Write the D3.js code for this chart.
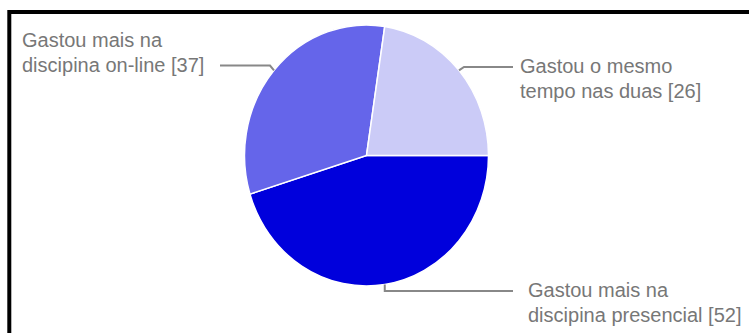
<!DOCTYPE html>
<html>
<head>
<meta charset="utf-8">
<script src="https://cdn.jsdelivr.net/npm/d3@7/dist/d3.min.js"></script>
<style>
  html, body { margin: 0; padding: 0; background: #fff; }
  svg { display: block; }
</style>
</head>
<body>
<svg id="chart" width="749" height="333"></svg>
<script>
// Slice data, drawn clockwise starting at 3 o'clock
const categories = [
  ["Gastou mais na", "discipina presencial [52]"],
  ["Gastou mais na", "discipina on-line [37]"],
  ["Gastou o mesmo", "tempo nas duas [26]"]
];
const values = [52, 37, 26];
const colors = ["#0000dc", "#6565ea", "#cbcbf7"];

// Label placement per slice: text anchor point, which text line the leader meets, leader end x
const labelLayout = [
  { x: 528, y: 297, joinLine: 0, lineEnd: 513, side: "below" },
  { x: 22,  y: 47,  joinLine: 1, lineEnd: 220, side: "left" },
  { x: 520, y: 73,  joinLine: 0, lineEnd: 513, side: "right" }
];

const W = 749, H = 333;
const cx = 366.5, cy = 155.5, r = 122, yStretch = 1.07;
const lineGap = 24.5;

const svg = d3.select("#chart");

// Outer frame (only top and left edges fall inside the view)
svg.append("rect")
  .attr("x", 9.3).attr("y", 12)
  .attr("width", 900).attr("height", 500)
  .attr("fill", "none")
  .attr("stroke", "#000")
  .attr("stroke-width", 4);

const pie = d3.pie().sort(null).value(d => d)
  .startAngle(Math.PI / 2)
  .endAngle(Math.PI / 2 + 2 * Math.PI);
const arcs = pie(values);
const arc = d3.arc().innerRadius(0).outerRadius(r);
const edge = d3.arc().innerRadius(r).outerRadius(r);

const g = svg.append("g")
  .attr("transform", `translate(${cx},${cy}) scale(1,${yStretch})`);

g.selectAll("path.slice")
  .data(arcs)
  .join("path")
  .attr("class", "slice")
  .attr("d", arc)
  .attr("fill", (d, i) => colors[i])
  .attr("stroke", "#fff")
  .attr("stroke-width", 1.5)
  .attr("vector-effect", "non-scaling-stroke");

// Leader lines from slice mid-angle on the rim out to the labels
arcs.forEach((a, i) => {
  const L = labelLayout[i];
  const c = edge.centroid(a);
  const ax = cx + c[0], ay = cy + c[1] * yStretch;
  const ly = L.y + L.joinLine * lineGap - 6;
  let pts;
  if (L.side === "below") {
    pts = [[ax, ay], [ax, ly], [L.lineEnd, ly]];
  } else if (L.side === "left") {
    pts = [[ax, ay], [ax - 4, ly], [L.lineEnd, ly]];
  } else {
    pts = [[ax, ay], [ax + 5, ly], [L.lineEnd, ly]];
  }
  svg.append("path")
    .attr("d", d3.line()(pts))
    .attr("fill", "none")
    .attr("stroke", "#888")
    .attr("stroke-width", 2);

  const t = svg.append("text")
    .attr("x", L.x).attr("y", L.y)
    .attr("fill", "#777")
    .attr("font-family", "Arial, 'Liberation Sans', sans-serif")
    .attr("font-size", 20);
  categories[i].forEach((s, k) => {
    t.append("tspan").attr("x", L.x).attr("y", L.y + k * lineGap).text(s);
  });
});
</script>
</body>
</html>
